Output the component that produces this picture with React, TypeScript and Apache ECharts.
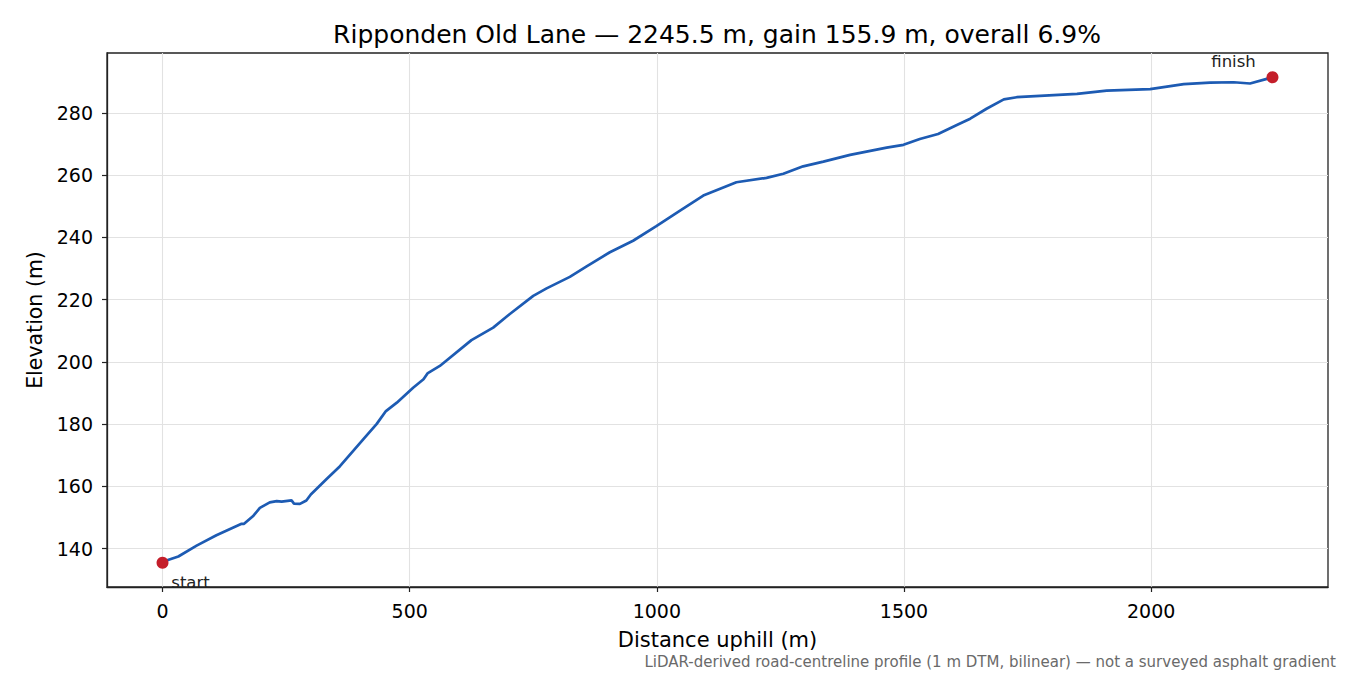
import { useEffect, useRef } from 'react';
import * as echarts from 'echarts';

// profile points (distance uphill m, elevation m)
const distance = [
  0, 11, 32, 69, 109, 160, 165, 184, 197, 217, 231, 241, 261, 266, 278, 291,
  300, 332, 359, 406, 433, 452, 474, 507, 528, 536, 561, 625, 669, 702, 750,
  777, 824, 858, 905, 952, 999, 1047, 1094, 1161, 1222, 1256, 1296, 1337,
  1391, 1465, 1499, 1532, 1569, 1607, 1634, 1667, 1702, 1728, 1850, 1910,
  1998, 2066, 2119, 2167, 2200, 2234, 2245.5,
];
const elevation = [
  135.5, 136.4, 137.5, 141.0, 144.3, 148.0, 148.0, 150.6, 153.1, 154.9, 155.3,
  155.1, 155.5, 154.5, 154.4, 155.5, 157.4, 162.4, 166.5, 175.1, 180.0, 184.2,
  186.9, 191.7, 194.4, 196.3, 198.7, 207.0, 211.0, 215.3, 221.2, 223.6, 227.3,
  230.7, 235.2, 238.9, 243.6, 248.6, 253.4, 257.7, 259.1, 260.4, 262.8, 264.3,
  266.5, 268.8, 269.7, 271.6, 273.2, 276.1, 278.1, 281.3, 284.3, 285.0, 286.1,
  287.1, 287.6, 289.2, 289.7, 289.8, 289.4, 290.9, 291.4,
];
const xTicks = [0, 500, 1000, 1500, 2000];
const yTicks = [140, 160, 180, 200, 220, 240, 260, 280];
const endpointNames = ['start', 'finish'];

const TITLE = 'Ripponden Old Lane — 2245.5 m, gain 155.9 m, overall 6.9%';
const NOTE = 'LiDAR-derived road-centreline profile (1 m DTM, bilinear) — not a surveyed asphalt gradient';
const FONT = '"DejaVu Sans", sans-serif';

export default function App() {
  const chartRef = useRef<HTMLDivElement>(null);

  useEffect(() => {
    if (!chartRef.current) return;
    const chart = echarts.init(chartRef.current, null, { renderer: 'svg' });

    const line = distance.map((d, i) => [d, elevation[i]]);
    const last = distance.length - 1;
    const ends = [
      { value: [distance[0], elevation[0]], name: endpointNames[0],
        label: { position: 'bottom', offset: [28, 0] } },
      { value: [distance[last], elevation[last]], name: endpointNames[1],
        label: { position: 'top', offset: [-39, 4] } },
    ];

    chart.setOption({
      animation: false,
      backgroundColor: '#fff',
      textStyle: { fontFamily: FONT },
      title: {
        text: TITLE,
        left: 712,
        textAlign: 'center',
        top: 17,
        textStyle: { fontFamily: FONT, fontSize: 25, fontWeight: 'normal', color: '#000' },
      },
      grid: {
        left: 107, right: 22, top: 53, bottom: 88,
        show: true, borderColor: '#222', borderWidth: 1.3, backgroundColor: 'transparent',
      },
      xAxis: {
        type: 'value',
        min: -112.3,
        max: 2357.8,
        name: 'Distance uphill (m)',
        nameLocation: 'middle',
        nameGap: 42,
        nameTextStyle: { fontFamily: FONT, fontSize: 21, color: '#000' },
        axisLine: { onZero: false, lineStyle: { color: '#222', width: 1.3 } },
        axisTick: { customValues: xTicks, length: 5, lineStyle: { color: '#222', width: 1.2 } },
        axisLabel: {
          customValues: xTicks, fontFamily: FONT, fontSize: 19, color: '#000', margin: 14,
          formatter: (v: number) => String(v),
        },
        splitLine: { show: true, lineStyle: { color: '#e2e2e2', width: 1.1 } },
      },
      yAxis: {
        type: 'value',
        min: 127.7,
        max: 299.2,
        name: 'Elevation (m)',
        nameLocation: 'middle',
        nameGap: 60,
        nameTextStyle: { fontFamily: FONT, fontSize: 20.5, color: '#000' },
        axisLine: { show: true, onZero: false, lineStyle: { color: '#222', width: 1.3 } },
        axisTick: { show: true, customValues: yTicks, length: 5, lineStyle: { color: '#222', width: 1.2 } },
        axisLabel: {
          customValues: yTicks, fontFamily: FONT, fontSize: 19, color: '#000', margin: 14,
          formatter: (v: number) => String(v),
        },
        splitLine: { show: true, lineStyle: { color: '#e2e2e2', width: 1.1 } },
      },
      series: [
        {
          type: 'line',
          data: line,
          showSymbol: false,
          smooth: false,
          lineStyle: { color: '#1d5bb3', width: 2.7 },
          z: 3,
        },
        {
          type: 'scatter',
          data: ends,
          symbolSize: 12,
          itemStyle: { color: '#c41e2a', opacity: 1 },
          label: {
            show: true,
            formatter: '{b}',
            fontFamily: FONT,
            fontSize: 16.5,
            color: '#222',
          },
          z: 4,
        },
      ],
      graphic: [
        {
          type: 'text',
          right: 14,
          top: 654,
          style: { text: NOTE, fontFamily: FONT, fontSize: 15, fill: '#6a6a6a' },
        },
      ],
    });

    return () => chart.dispose();
  }, []);

  return (
    <div
      ref={chartRef}
      style={{ position: 'fixed', left: 0, top: 0, width: 1350, height: 675, background: '#fff' }}
    />
  );
}
